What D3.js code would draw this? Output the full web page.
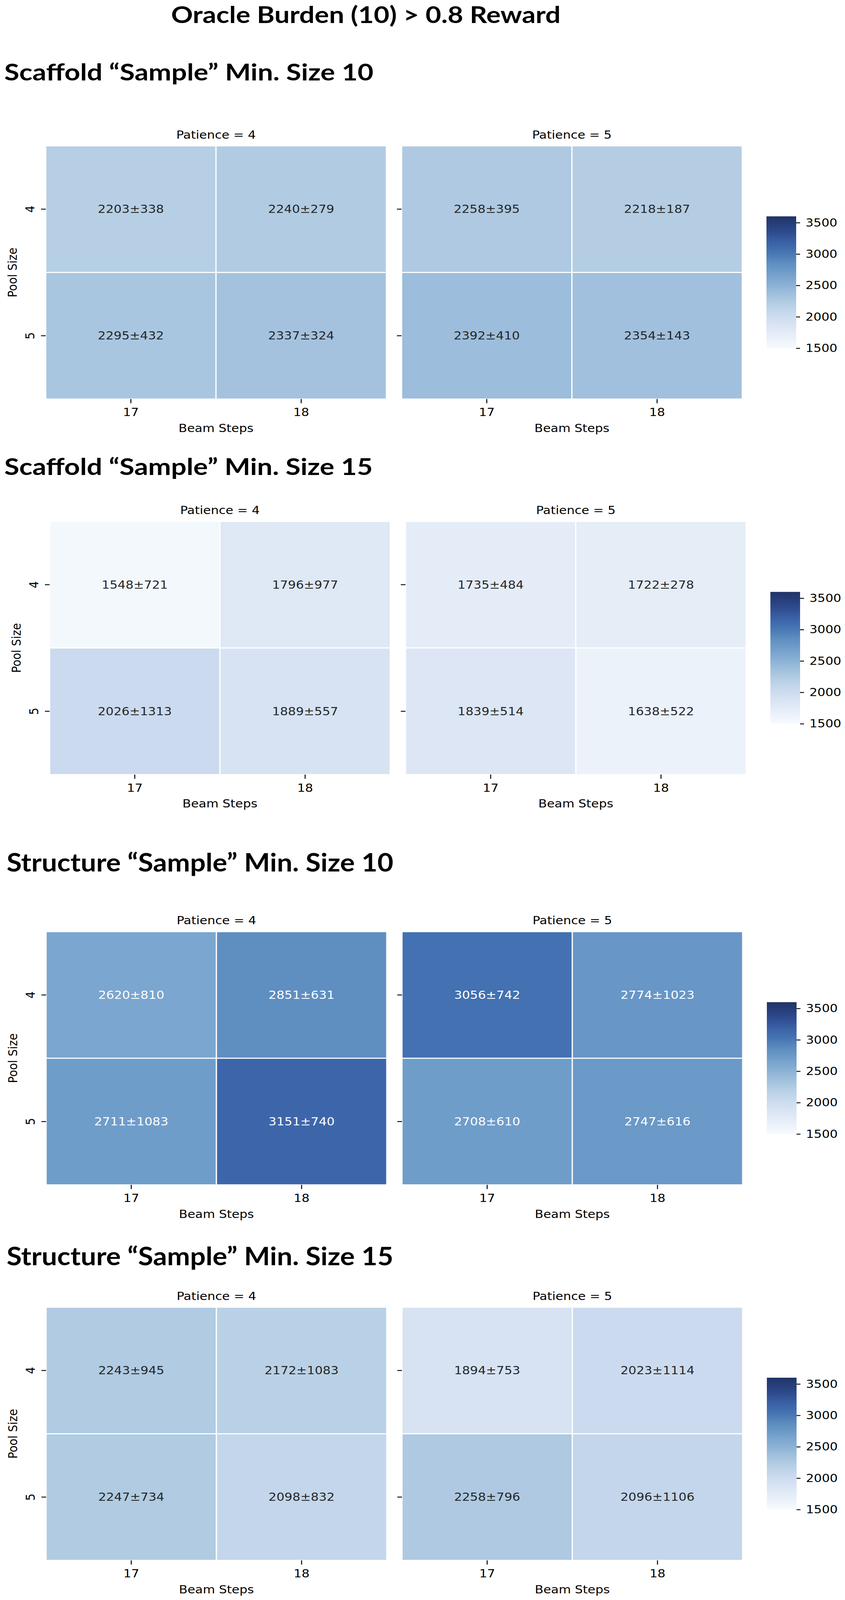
<!DOCTYPE html>
<html>
<head>
<meta charset="utf-8">
<script src="https://cdn.jsdelivr.net/npm/d3@7"></script>
<style>
  html, body { margin: 0; padding: 0; width: 100%; height: 100%; overflow: hidden; background: #fff; }
  #chart { width: 100vw; height: 100vh; }
  svg { display: block; }
  .tick line { stroke: #000; stroke-width: 2.5px; }
</style>
</head>
<body>
<div id="chart"></div>
<script>
// chart text
var mainTitle = "Oracle Burden (10) > 0.8 Reward";
var sectionTitles = [
  "Scaffold \u201cSample\u201d Min. Size 10",
  "Scaffold \u201cSample\u201d Min. Size 15",
  "Structure \u201cSample\u201d Min. Size 10",
  "Structure \u201cSample\u201d Min. Size 15"
];
var patienceLabels = ["Patience = 4", "Patience = 5"];
var beamSteps = ["17", "18"];
var poolSizes = ["4", "5"];
var colorbarTicks = [1500, 2000, 2500, 3000, 3500];

// means and std, [patience][pool size][beam steps]
var scaffold10Mean = [[[2203, 2240], [2295, 2337]], [[2258, 2218], [2392, 2354]]];
var scaffold10Std = [[[338, 279], [432, 324]], [[395, 187], [410, 143]]];
var scaffold15Mean = [[[1548, 1796], [2026, 1889]], [[1735, 1722], [1839, 1638]]];
var scaffold15Std = [[[721, 977], [1313, 557]], [[484, 278], [514, 522]]];
var structure10Mean = [[[2620, 2851], [2711, 3151]], [[3056, 2774], [2708, 2747]]];
var structure10Std = [[[810, 631], [1083, 740]], [[742, 1023], [610, 616]]];
var structure15Mean = [[[2243, 2172], [2247, 2098]], [[1894, 2023], [2258, 2096]]];
var structure15Std = [[[945, 1083], [734, 832]], [[753, 1114], [796, 1106]]];

var allMeans = [scaffold10Mean, scaffold15Mean, structure10Mean, structure15Mean];
var allStds = [scaffold10Std, scaffold15Std, structure10Std, structure15Std];

var svgWidth = 2163;
var svgHeight = 4563;

// where each section sits on the page
var sectionLayout = [
  { left: 117, top: 416, titleX: 11, titleY: 230, titleSize: 66, titleLen: 945 },
  { left: 127, top: 1487, titleX: 11, titleY: 1355, titleSize: 67, titleLen: 943 },
  { left: 118, top: 2657, titleX: 17, titleY: 2485, titleSize: 73, titleLen: 990 },
  { left: 118, top: 3728, titleX: 17, titleY: 3608, titleSize: 73, titleLen: 990 }
];

var panelWidth = 872;
var panelGap = 39;
var heatHeight = 722;
var fontMpl = "'DejaVu Sans', sans-serif";
var fontSlide = "Lato, Carlito, 'Open Sans', sans-serif";

// colour map, light to navy
var colorScale = d3.scaleLinear()
  .domain([1500, 1640, 1800, 2030, 2200, 2400, 2620, 2710, 2850, 3050, 3150, 3350, 3600])
  .range(["#f7fbff", "#ecf2fa", "#dfe8f5", "#cbdaef", "#b6cfe4", "#9bbcdb", "#7ba6cf",
          "#6f9dca", "#5f8ec1", "#4372b1", "#3d66aa", "#2e4b8e", "#1f3366"])
  .interpolate(d3.interpolateRgb)
  .clamp(true);

function relLum(c) {
  var rgb = d3.rgb(c);
  var ch = [rgb.r, rgb.g, rgb.b].map(function(v) {
    v = v / 255;
    return v <= 0.03928 ? v / 12.92 : Math.pow((v + 0.055) / 1.055, 2.4);
  });
  return 0.2126 * ch[0] + 0.7152 * ch[1] + 0.0722 * ch[2];
}

// stretch the page over the whole viewport (it comes out shorter than asked)
var svg = d3.select("#chart")
  .append("svg")
  .attr("width", "100%")
  .attr("height", "100%")
  .attr("viewBox", `0 0 ${svgWidth} ${svgHeight}`)
  .attr("preserveAspectRatio", "none")
  .style("background", "#fff");

// gradient for the colorbars
var defs = svg.append("defs");
var grad = defs.append("linearGradient")
  .attr("id", "cbGrad")
  .attr("x1", 0).attr("y1", 1)
  .attr("x2", 0).attr("y2", 0);
d3.range(0, 1.0001, 0.02).forEach(function(t) {
  grad.append("stop")
    .attr("offset", t)
    .attr("stop-color", colorScale(1500 + t * 2100));
});

svg.append("text")
  .attr("x", 438)
  .attr("y", 66)
  .attr("textLength", 997)
  .attr("lengthAdjust", "spacingAndGlyphs")
  .attr("font-family", fontSlide)
  .attr("font-weight", "bold")
  .attr("font-size", 65)
  .text(mainTitle);

function drawSection(s) {
  var lay = sectionLayout[s];
  var g = svg.append("g");

  g.append("text")
    .attr("x", lay.titleX)
    .attr("y", lay.titleY)
    .attr("textLength", lay.titleLen)
    .attr("lengthAdjust", "spacingAndGlyphs")
    .attr("font-family", fontSlide)
    .attr("font-weight", "bold")
    .attr("font-size", lay.titleSize)
    .text(sectionTitles[s]);

  var yScale = d3.scaleBand()
    .domain(poolSizes)
    .range([lay.top, lay.top + heatHeight]);

  patienceLabels.forEach(function(label, p) {
    var x0 = lay.left + p * (panelWidth + panelGap);
    var xScale = d3.scaleBand()
      .domain(beamSteps)
      .range([x0, x0 + panelWidth]);

    var cells = [];
    poolSizes.forEach(function(ps, i) {
      beamSteps.forEach(function(bs, j) {
        cells.push({ pool: ps, beam: bs, mean: allMeans[s][p][i][j], std: allStds[s][p][i][j] });
      });
    });

    g.selectAll(null)
      .data(cells)
      .enter()
      .append("rect")
      .attr("x", d => xScale(d.beam))
      .attr("y", d => yScale(d.pool))
      .attr("width", xScale.bandwidth())
      .attr("height", yScale.bandwidth())
      .attr("fill", d => colorScale(d.mean))
      .attr("stroke", "#fff")
      .attr("stroke-width", 3);

    g.selectAll(null)
      .data(cells)
      .enter()
      .append("text")
      .attr("x", d => xScale(d.beam) + xScale.bandwidth() / 2)
      .attr("y", d => yScale(d.pool) + yScale.bandwidth() / 2 + 11)
      .attr("text-anchor", "middle")
      .attr("font-family", fontMpl)
      .attr("font-size", 32)
      .attr("fill", d => relLum(colorScale(d.mean)) > 0.408 ? "#262626" : "#ffffff")
      .text(d => d.mean + "\u00b1" + d.std);

    // panel title
    g.append("text")
      .attr("x", x0 + panelWidth / 2)
      .attr("y", lay.top - 21)
      .attr("text-anchor", "middle")
      .attr("font-family", fontMpl)
      .attr("font-size", 32)
      .text(label);

    // x axis
    var xAxis = g.append("g")
      .attr("transform", `translate(0, ${lay.top + heatHeight})`)
      .call(d3.axisBottom(xScale).tickSize(12).tickPadding(14));
    xAxis.select(".domain").remove();
    xAxis.selectAll("text")
      .attr("font-family", fontMpl)
      .attr("font-size", 32)
      .attr("fill", "#000");

    g.append("text")
      .attr("x", x0 + panelWidth / 2)
      .attr("y", lay.top + 816)
      .attr("text-anchor", "middle")
      .attr("font-family", fontMpl)
      .attr("font-size", 32)
      .text("Beam Steps");

    // y axis, labels only on the first panel
    var yAxis = g.append("g")
      .attr("transform", `translate(${x0}, 0)`)
      .call(d3.axisLeft(yScale).tickSize(12));
    yAxis.select(".domain").remove();
    if (p === 0) {
      yAxis.selectAll("text")
        .attr("x", null)
        .attr("dy", null)
        .attr("transform", "translate(-29, 0) rotate(-90)")
        .attr("text-anchor", "middle")
        .attr("font-family", fontMpl)
        .attr("font-size", 32)
        .attr("fill", "#000");
    } else {
      yAxis.selectAll("text").remove();
    }
  });

  g.append("text")
    .attr("transform", `translate(${lay.left - 74}, ${lay.top + heatHeight / 2}) rotate(-90)`)
    .attr("text-anchor", "middle")
    .attr("font-family", fontMpl)
    .attr("font-size", 32)
    .text("Pool Size");

  // colorbar
  var cbX = lay.left + 1845;
  var cbScale = d3.scaleLinear()
    .domain([1500, 3600])
    .range([lay.top + 577, lay.top + 201]);

  g.append("rect")
    .attr("x", cbX)
    .attr("y", cbScale(3600))
    .attr("width", 76)
    .attr("height", cbScale(1500) - cbScale(3600))
    .attr("fill", "url(#cbGrad)");

  var cbAxis = g.append("g")
    .attr("transform", `translate(${cbX + 76}, 0)`)
    .call(d3.axisRight(cbScale)
      .tickValues(colorbarTicks)
      .tickFormat(d3.format("d"))
      .tickSize(10)
      .tickPadding(14));
  cbAxis.select(".domain").remove();
  cbAxis.selectAll("text")
    .attr("font-family", fontMpl)
    .attr("font-size", 32)
    .attr("fill", "#000");
}

sectionTitles.forEach(function(t, s) {
  drawSection(s);
});
</script>
</body>
</html>
